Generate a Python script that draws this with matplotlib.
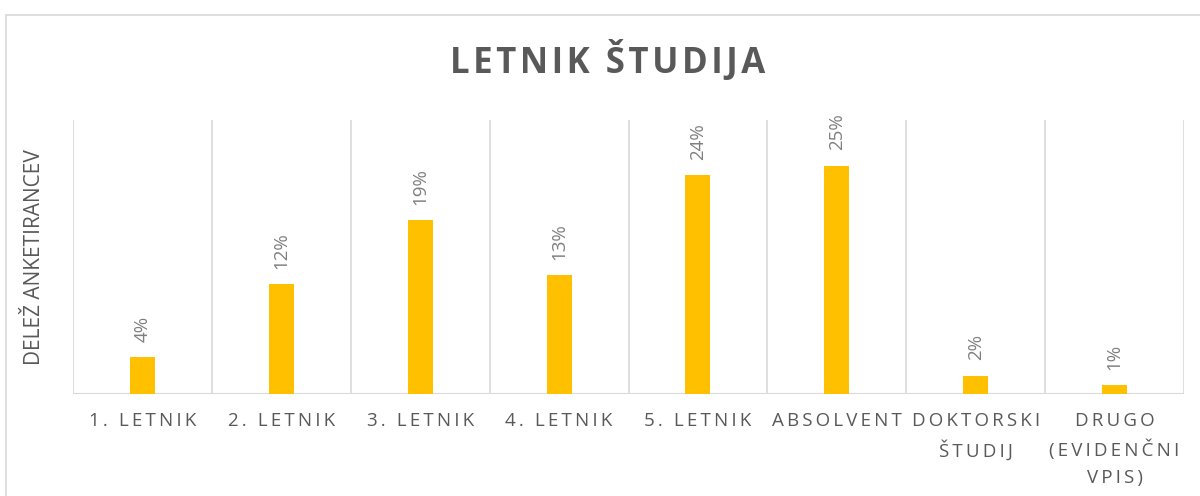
import matplotlib
matplotlib.use("Agg")
import matplotlib.pyplot as plt
from matplotlib.patches import Rectangle

plt.rcParams['font.family'] = ['Open Sans', 'DejaVu Sans']

categories = ["1. LETNIK", "2. LETNIK", "3. LETNIK", "4. LETNIK", "5. LETNIK",
              "ABSOLVENT", "DOKTORSKI\nŠTUDIJ", "DRUGO\n(EVIDENČNI\nVPIS)"]
shares = [4, 12, 19, 13, 24, 25, 2, 1]   # odstotki

BAR = "#FFC000"
GRID = "#d9d9d9"
TXT = "#595959"
LBL = "#7f7f7f"


def spaced(s, sep="\u2009"):
    # razmik med črkami (po vrsticah)
    return "\n".join(sep.join(line) for line in s.split("\n"))


fig = plt.figure(figsize=(12, 4.96), dpi=100)
fig.patch.set_facecolor("white")
fig.patches.append(Rectangle((6 / 1200, -0.2), 1.2, 1.2 - 15 / 496,
                             transform=fig.transFigure, fill=False,
                             edgecolor=GRID, lw=1.2))

ax = fig.add_axes([73 / 1200, 1 - 394 / 496, (1184 - 73) / 1200, (394 - 120) / 496])
x = list(range(len(categories)))
bars = ax.bar(x, shares, width=0.18, color=BAR, zorder=3)

ax.set_xlim(-0.5, len(categories) - 0.5)
ax.set_ylim(0, 30)

for b, v in zip(bars, shares):
    ax.annotate(f"{v}%", (b.get_x() + b.get_width() / 2, v),
                xytext=(0, 11), textcoords="offset points",
                rotation=90, ha="center", va="bottom",
                fontsize=13.5, color=LBL)

# navpične črte med kategorijami
for k in range(len(categories) + 1):
    ax.axvline(k - 0.5, color=GRID, lw=1.2, zorder=1)

for s in ax.spines.values():
    s.set_visible(False)
ax.axhline(0, color=GRID, lw=1.5, zorder=2)

ax.set_yticks([])
ax.set_xticks(x)
ax.set_xticklabels([spaced(c) for c in categories], fontsize=13.5, color=TXT,
                   linespacing=1.6, va="top")
ax.tick_params(axis="x", length=0, pad=13)

ax.set_ylabel("DELEŽ ANKETIRANCEV", fontsize=15, color=TXT, labelpad=20)

fig.text(608 / 1200, 1 - 62 / 496, spaced("LETNIK ŠTUDIJA", "\u200a"),
         ha="center", va="center", fontsize=25, fontweight="bold", color=TXT)

fig.savefig("out.png", dpi=100)
